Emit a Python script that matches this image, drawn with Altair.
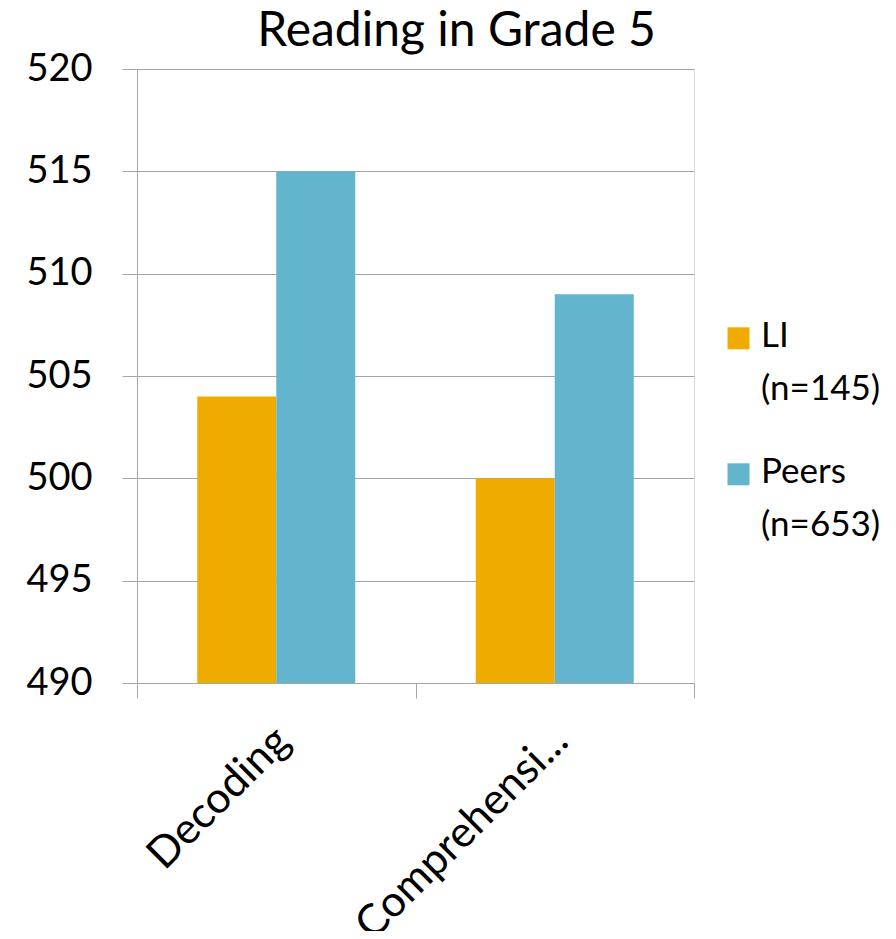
import altair as alt
import pandas as pd

categories = ["Decoding", "Comprehension"]
series = ["LI", "Peers"]
series_n = [145, 653]
li_values = [504, 500]
peers_values = [515, 509]
colors = ["#F0AB00", "#62B5CC"]
y_ticks = [490, 495, 500, 505, 510, 515, 520]

rows = []
for i, c in enumerate(categories):
    rows.append({"category": c, "series": series[0], "value": li_values[i]})
    rows.append({"category": c, "series": series[1], "value": peers_values[i]})
df = pd.DataFrame(rows)

label_expr = (
    f"datum.label == '{series[0]}' ? ['{series[0]}', '(n={series_n[0]})'] : "
    f"['{series[1]}', '(n={series_n[1]})']"
)

FONT = "Lato"
GRID = "#A6A6A6"

chart = alt.Chart(df).mark_bar(clip=True).encode(
    x=alt.X(
        "category:N",
        sort=categories,
        title=None,
        scale=alt.Scale(paddingInner=0, paddingOuter=0),
        axis=alt.Axis(
            labelAngle=-45,
            labelAlign="right",
            labelBaseline="middle",
            labelPadding=36,
            labelOffset=6,
            labelFontSize=43,
            labelFont=FONT,
            labelColor="#000000",
            labelLimit=500,
            labelExpr="datum.label == 'Comprehension' ? 'Comprehensi...' : datum.label",
            tickBand="extent",
            tickSize=15,
            tickColor=GRID,
            domainColor=GRID,
            grid=False,
        ),
    ),
    xOffset=alt.XOffset(
        "series:N", sort=series, scale=alt.Scale(paddingInner=0, paddingOuter=0.7627)
    ),
    y=alt.Y(
        "value:Q",
        title=None,
        scale=alt.Scale(domain=[490, 520], nice=False, zero=False),
        axis=alt.Axis(
            values=y_ticks,
            labelFontSize=38,
            labelFont=FONT,
            labelColor="#000000",
            labelPadding=30,
            tickSize=15,
            tickColor=GRID,
            domainColor=GRID,
            gridColor=GRID,
            grid=True,
        ),
    ),
    color=alt.Color(
        "series:N",
        sort=series,
        scale=alt.Scale(domain=series, range=colors),
        legend=alt.Legend(
            title=None,
            orient="none",
            legendX=584,
            legendY=232,
            symbolType="M -1 0.8 H 1 V 2.8 H -1 Z",
            symbolSize=484,
            symbolStrokeWidth=0,
            labelFontSize=35,
            labelFont=FONT,
            labelColor="#000000",
            labelBaseline="top",
            labelExpr=label_expr,
            rowPadding=30,
            labelOffset=5,
        ),
    ),
).properties(
    width=557,
    height=614,
    title=alt.TitleParams(
        "Reading in Grade 5",
        fontSize=48,
        font=FONT,
        fontWeight="normal",
        color="#000000",
        dx=41,
        offset=-6,
    ),
    autosize=alt.AutoSizeParams(type="none"),
    padding={"left": 129, "top": 61, "right": 194, "bottom": 248},
).configure_view(stroke=None).configure(
    style={"guide-label": {"lineHeight": 53}}
)

chart.save("out.html", embed_options={"renderer": "svg", "actions": False})
